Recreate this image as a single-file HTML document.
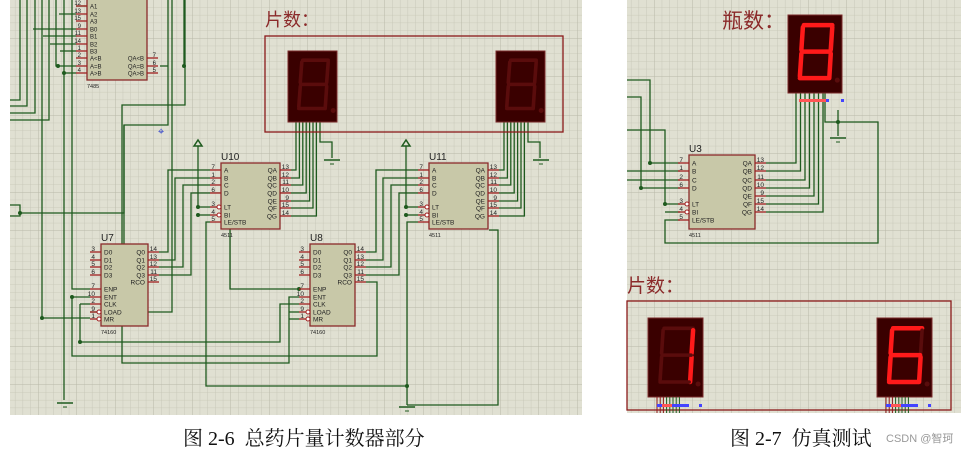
<!DOCTYPE html>
<html><head><meta charset="utf-8">
<style>
html,body{margin:0;padding:0;background:#fff;width:968px;height:452px;overflow:hidden}
svg{display:block}
text{font-family:"Liberation Sans","Noto Sans CJK SC",sans-serif}
.cap{font-family:"Liberation Serif","Noto Serif CJK SC",serif;font-size:20px;fill:#111;white-space:pre}
</style></head>
<body>
<svg id="s" width="968" height="452" xmlns="http://www.w3.org/2000/svg">
<defs>
<pattern id="g" width="7.7" height="7.7" patternUnits="userSpaceOnUse">
<rect width="7.7" height="7.7" fill="#e0e0d2"/>
<path d="M7.7 0V7.7H0" fill="none" stroke="#c4c4b4" stroke-width="0.8"/>
</pattern>
<pattern id="G" width="38.5" height="38.5" patternUnits="userSpaceOnUse">
<rect width="38.5" height="38.5" fill="url(#g)"/>
<path d="M38.5 0V38.5H0" fill="none" stroke="#b8b8a8" stroke-width="1"/>
</pattern>
</defs>
<rect x="10" y="0" width="572" height="415" fill="url(#G)"/>
<rect x="627" y="0" width="334" height="413" fill="url(#G)"/>
<g id="w" fill="none" stroke="#1e5a1e" stroke-width="1.3"></g>
<g id="c"></g>
<text x="265" y="26" font-size="18" fill="#8b2a2a">片数：</text>
<text x="722" y="28" font-size="21" fill="#8b2a2a">瓶数：</text>
<text x="627" y="292" font-size="19" fill="#8b2a2a">片数：</text>
<text class="cap" x="183" y="445" xml:space="preserve">图 2-6  总药片量计数器部分</text>
<text class="cap" x="730" y="445" xml:space="preserve">图 2-7  仿真测试</text>
<text x="886" y="442" font-size="11" fill="#999">CSDN @智珂</text>
</svg>
<script>
const NS="http://www.w3.org/2000/svg";
const W=document.getElementById('w'),C=document.getElementById('c');
function el(p,t,a,txt){const e=document.createElementNS(NS,t);for(const k in a)e.setAttribute(k,a[k]);if(txt!=null)e.textContent=txt;p.appendChild(e);return e;}
function pl(pts){el(W,'polyline',{points:pts});}
function dot(x,y){el(C,'circle',{cx:x,cy:y,r:2,fill:'#1e5a1e'});}
function chip(x,y,w,h,L,R,name,part,fs){
  fs=fs||6.5;
  el(C,'rect',{x:x,y:y,width:w,height:h,fill:'#c8c8a8',stroke:'#8b2a2a','stroke-width':1.3});
  L.forEach(p=>{if(!p)return;const [yy,n,l,inv]=p;
    el(C,'line',{x1:x-11,y1:yy,x2:x,y2:yy,stroke:'#a02020','stroke-width':1.3});
    if(inv)el(C,'circle',{cx:x-2,cy:yy,r:2,fill:'#fff',stroke:'#a02020'});
    el(C,'text',{x:x-6,y:yy-1,'font-size':fs,'text-anchor':'end',fill:'#222'},n);
    el(C,'text',{x:x+3,y:yy+2.3,'font-size':fs,fill:'#222'},l);});
  R.forEach(p=>{const [yy,n,l]=p;
    el(C,'line',{x1:x+w,y1:yy,x2:x+w+11,y2:yy,stroke:'#a02020','stroke-width':1.3});
    el(C,'text',{x:x+w+9,y:yy-1,'font-size':fs,'text-anchor':'end',fill:'#222'},n);
    el(C,'text',{x:x+w-3,y:yy+2.3,'font-size':fs,'text-anchor':'end',fill:'#222'},l);});
  if(name)el(C,'text',{x:x,y:y-3,'font-size':10,fill:'#222'},name);
  if(part)el(C,'text',{x:x,y:y+h+8,'font-size':5.5,fill:'#222'},part);
}
function seg7(x,y,w,h,on){
  el(C,'rect',{x:x,y:y,width:w,height:h,fill:'#3a0000',stroke:'#7a2a2a'});
  const ox=x+w*0.22,oy=y+h*0.13,sw=w*0.6,sh=h*0.68;
  const segs={a:[ox+4,oy,ox+sw,oy],b:[ox+sw,oy+2,ox+sw-1.5,oy+sh/2-2],c:[ox+sw-1.5,oy+sh/2+2,ox+sw-3,oy+sh],
    d:[ox,oy+sh,ox+sw-4,oy+sh],e:[ox+1.5,oy+sh/2+2,ox,oy+sh-2],f:[ox+3,oy+2,ox+1.5,oy+sh/2-2],g:[ox+2,oy+sh/2,ox+sw-2,oy+sh/2]};
  for(const k in segs){const v=segs[k];const lit=on&&on.includes(k);
    el(C,'line',{x1:v[0],y1:v[1],x2:v[2],y2:v[3],stroke:lit?'#ff1a1a':'#5a0c0c','stroke-width':lit?4.5:3.6,'stroke-linecap':'round'});}
  el(C,'circle',{cx:ox+sw+5,cy:oy+sh+2,r:2.5,fill:'#5a0c0c'});
}
function gnd(x,y){el(C,'line',{x1:x-8,y1:y,x2:x+8,y2:y,stroke:'#1e5a1e','stroke-width':1.5});el(C,'line',{x1:x-2,y1:y+4,x2:x+2,y2:y+4,stroke:'#1e5a1e'});}
function pwr(x,y){el(C,'path',{d:`M${x-4} ${y+6}L${x} ${y}L${x+4} ${y+6}Z`,fill:'none',stroke:'#1e5a1e','stroke-width':1.5});}

el(C,'rect',{x:265,y:36,width:298,height:96,fill:'none',stroke:'#8b1a1a','stroke-width':1.3});
el(C,'rect',{x:627,y:301,width:324,height:109,fill:'none',stroke:'#8b1a1a','stroke-width':1.3});

const Qy=[170,178,185,193,201,208,216];
[[296,292],[504,500]].forEach(([dx,cx],i)=>{
  for(let k=0;k<7;k++){const px=dx+k*3.4;pl(`${px},122 ${px},${Qy[k]} ${(i?488:280)+11},${Qy[k]}`);}
  pl(`${dx+24},122 ${dx+24},142 ${dx+36},142 ${dx+36},158`);
});
gnd(332,160);gnd(541,160);
pwr(198,140);pl('198,146 198,207 210,207');pl('198,215 210,215');dot(198,207);dot(198,215);
pwr(406,140);pl('406,146 406,207 418,207');pl('406,215 418,215');dot(406,207);dot(406,215);
pl('159,252 168,252 168,170 210,170');pl('159,260 175,260 175,178 210,178');
pl('159,267 183,267 183,185 210,185');pl('159,275 191,275 191,193 210,193');
pl('366,252 376,252 376,170 418,170');pl('366,260 383,260 383,178 418,178');
pl('366,267 391,267 391,185 418,185');pl('366,275 399,275 399,193 418,193');
pl('210,222 206,222 206,386 407,386 407,222 418,222');pl('407,386 407,405');dot(407,386);
pl('64,400 64,0');gnd(65,403);gnd(407,407);
pl('56,0 56,66 76,66');dot(58,66);pl('64,73 76,73');dot(64,73);
pl('172,0 172,312 90,312');pl('185,0 185,105 122,105 122,363 289,363 289,297 299,297');
pl('168,66 160,66');pl('184,66 184,0');dot(184,66);
pl('168,0 168,125 124,125 124,325');
pl('42,0 42,318 90,318');dot(42,318);
pl('10,216 20,216 20,205 10,205');
pl('20,213 124,213 124,125');dot(20,213);
pl('72,0 72,289 90,289');pl('72,297 90,297');dot(72,297);
pl('80,304 90,304');pl('80,304 80,342 280,342 280,304 299,304');dot(80,342);
pl('366,282 377,282 377,356 72,356 72,297');
pl('100,0 100,6 76,6');pl('20,0 20,100 10,100');
pl('27,0 27,106 10,106');pl('35,0 35,113 10,113');pl('49,0 49,120 10,120');
pl('59,14 76,14');pl('33,29 76,29');pl('43,36 76,36');pl('50,44 76,44');pl('60,51 76,51');
pl('289,312 299,312');pl('289,319 299,319');
pl('489,230 498,230 498,405 407,405');
pl('299,289 230,289 230,229');dot(299,289);

chip(87,-10,60,90,[[6,'12','A1'],[14,'13','A2'],[21,'15','A3'],[29,'9','B0'],[36,'11','B1'],[44,'14','B2'],[51,'1','B3'],[58,'2','A<B'],[66,'3','A=B'],[73,'4','A>B']],
  [[58,'7','QA<B'],[66,'6','QA=B'],[73,'5','QA>B']],null,'7485',6);
const L4511=[[170,'7','A'],[178,'1','B'],[185,'2','C'],[193,'6','D'],[207,'3','LT',1],[215,'4','BI',1],[222,'5','LE/STB']];
const R4511=[[170,'13','QA'],[178,'12','QB'],[185,'11','QC'],[193,'10','QD'],[201,'9','QE'],[208,'15','QF'],[216,'14','QG']];
chip(221,163,59,66,L4511,R4511,'U10','4511');
chip(429,163,59,66,L4511,R4511,'U11','4511');
const L160=[[252,'3','D0'],[260,'4','D1'],[267,'5','D2'],[275,'6','D3'],[289,'7','ENP'],[297,'10','ENT'],[304,'2','CLK'],[312,'9','LOAD',1],[319,'1','MR',1]];
const R160=[[252,'14','Q0'],[260,'13','Q1'],[267,'12','Q2'],[275,'11','Q3'],[282,'15','RCO']];
chip(101,244,47,82,L160,R160,'U7','74160');
chip(310,244,45,82,L160,R160,'U8','74160');
seg7(288,51,49,71,null);seg7(496,51,49,71,null);
el(C,'text',{x:158,y:135,'font-size':11,fill:'#3344cc'},'⌖');

const Ry=[163,171,180,188,196,204,212];
for(let k=0;k<7;k++){const px=796+k*4.5;pl(`${px},93 ${px},${Ry[k]} 766,${Ry[k]}`);}
pl('825,93 825,122 878,122 878,243 665,243 665,220 680,220');dot(838,122);pl('838,110 838,136');gnd(838,138);
pl('627,80 650,80 650,163 680,163');dot(650,163);
pl('627,97 641,97 641,188 680,188');dot(641,188);
pl('627,130 665,130 665,204 680,204');dot(665,204);pl('665,212 680,212');
pl('627,171 680,171');pl('627,180 680,180');
chip(689,155,66,74,[[163,'7','A'],[171,'1','B'],[180,'2','C'],[188,'6','D'],[204,'3','LT',1],[212,'4','BI',1],[220,'5','LE/STB']],
 [[163,'13','QA'],[171,'12','QB'],[180,'11','QC'],[188,'10','QD'],[196,'9','QE'],[204,'15','QF'],[212,'14','QG']],'U3','4511',6.5);
seg7(788,15,54,78,'abcdefg');
el(C,'rect',{x:799,y:99,width:28,height:3,fill:'#f55'});
el(C,'rect',{x:826,y:99,width:3,height:3,fill:'#44f'});el(C,'rect',{x:841,y:99,width:3,height:3,fill:'#44f'});
seg7(648,318,55,79,'bc');seg7(877,318,55,79,'acdefg');
[[657],[886]].forEach(([x])=>{for(let k=0;k<8;k++)el(C,'line',{x1:x+k*3.2,y1:397,x2:x+k*3.2,y2:413,stroke:k<3?'#8b1a1a':'#1e5a1e','stroke-width':1});
 el(C,'rect',{x:x,y:404,width:32,height:3,fill:'#44f'});el(C,'rect',{x:x+5,y:404,width:10,height:3,fill:'#f55'});el(C,'rect',{x:x+42,y:404,width:3,height:3,fill:'#44f'});});
</script>
</body></html>
